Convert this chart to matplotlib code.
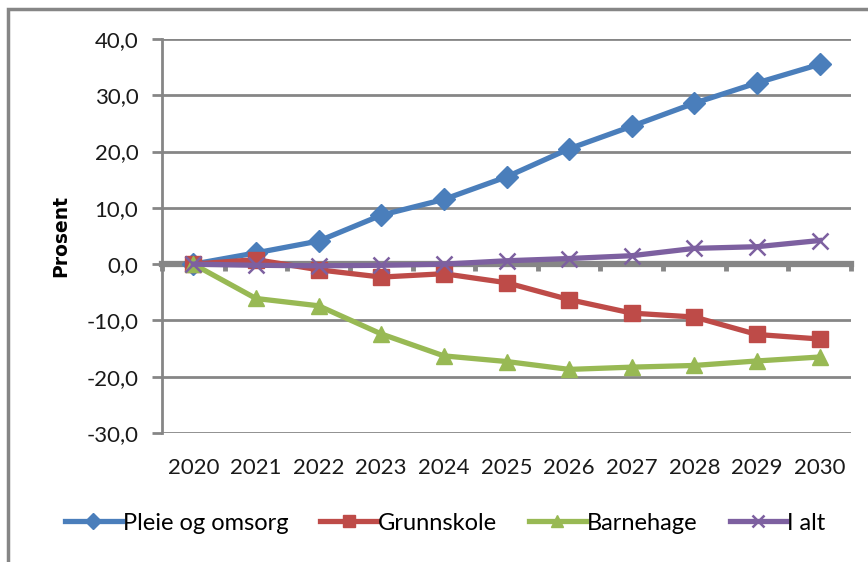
import matplotlib
matplotlib.use("Agg")
import matplotlib.pyplot as plt
from matplotlib.patches import Rectangle
from matplotlib.ticker import FixedLocator, FuncFormatter

years = ["2020", "2021", "2022", "2023", "2024", "2025", "2026", "2027", "2028", "2029", "2030"]
pleie = [0.0, 2.0, 4.1, 8.7, 11.5, 15.5, 20.5, 24.5, 28.6, 32.2, 35.5]
grunnskole = [0.0, 0.8, -1.0, -2.3, -1.7, -3.3, -6.3, -8.7, -9.4, -12.5, -13.3]
barnehage = [0.0, -6.1, -7.4, -12.4, -16.3, -17.3, -18.7, -18.3, -18.0, -17.2, -16.5]
i_alt = [0.0, -0.2, -0.3, -0.2, 0.0, 0.6, 1.0, 1.5, 2.8, 3.1, 4.2]
y_ticks = [-30, -20, -10, 0, 10, 20, 30, 40]

FONT = "Lato"
GRID = "#868686"
FS = 16

fig = plt.figure(figsize=(8.68, 5.62), dpi=100)
ax = fig.add_axes([162/868, 1-433/562, (851-162)/868, (433-39)/562])

x = list(range(len(years)))
series = [
    ("Pleie og omsorg", pleie, "#4A7EBB", "D", 11),
    ("Grunnskole", grunnskole, "#BE4B48", "s", 12),
    ("Barnehage", barnehage, "#98B954", "^", 12),
    ("I alt", i_alt, "#7D60A0", "x", 11),
]

ax.set_xlim(-0.5, len(years) - 0.5)
ax.set_ylim(-30, 40)

for yv in y_ticks:
    if yv != 0:
        ax.axhline(yv, color=GRID, lw=2, zorder=1)

# zero category axis
ax.spines["bottom"].set_position(("data", 0))
ax.spines["bottom"].set_color(GRID)
ax.spines["bottom"].set_linewidth(4.5)
ax.spines["bottom"].set_zorder(2)
ax.xaxis.set_major_locator(FixedLocator(x))
ax.xaxis.set_minor_locator(FixedLocator([i - 0.5 for i in range(len(years) + 1)]))
ax.tick_params(axis="x", which="major", length=0, labelbottom=False)
ax.tick_params(axis="x", which="minor", length=5, width=3.5, color=GRID, direction="out")

sec = ax.secondary_xaxis("bottom")
sec.set_xticks(x)
sec.set_xticklabels(years, fontsize=FS, family=FONT, color="#1a1a1a")
sec.tick_params(length=0, pad=18)
sec.spines["bottom"].set_visible(False)

for s in ["top", "right"]:
    ax.spines[s].set_visible(False)
ax.spines["left"].set_color(GRID)
ax.spines["left"].set_linewidth(2)
ax.set_yticks(y_ticks)
ax.yaxis.set_major_formatter(FuncFormatter(lambda v, p: f"{v:.1f}".replace(".", ",")))
ax.tick_params(axis="y", length=7, width=2, color=GRID, labelsize=FS, pad=10, labelcolor="#1a1a1a")
for lab in ax.get_yticklabels():
    lab.set_family(FONT)

ax.set_ylabel("Prosent", fontsize=13.5, fontweight="bold", family="DejaVu Sans")
ax.yaxis.set_label_coords(-0.133, 0.5)

handles = []
for name, vals, col, mk, ms in series:
    kw = dict(color=col, lw=3.8, marker=mk, markersize=ms, label=name, zorder=3, clip_on=False)
    if mk == "x":
        kw.update(markeredgewidth=1.8)
    else:
        kw.update(markeredgecolor=col)
    h, = ax.plot(x, vals, **kw)
    handles.append(h)

ax.set_facecolor("none")

leg = fig.legend(handles=handles, loc="center", bbox_to_anchor=(0.513, 1-523/562), ncol=4,
                 frameon=False, handlelength=2.4, handletextpad=0.05, columnspacing=1.35,
                 prop={"family": FONT, "size": 17}, markerscale=0.75)

fig.patches.append(Rectangle((8/868, -0.1), 1.2, 1.1 - 9/562, transform=fig.transFigure,
                             fill=False, ec=GRID, lw=2.5))

fig.savefig("out.png", dpi=100)
